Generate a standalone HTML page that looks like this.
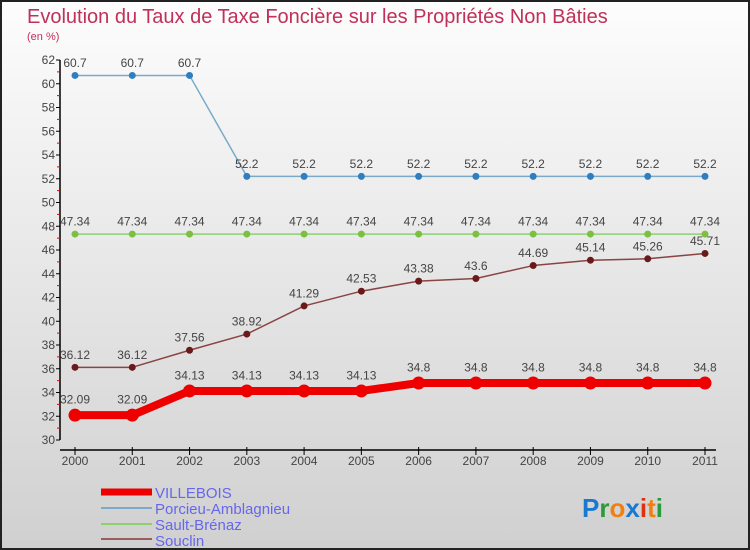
<!DOCTYPE html>
<html><head><meta charset="utf-8"><style>
body{margin:0;width:750px;height:550px;overflow:hidden}
svg{display:block;font-family:"Liberation Sans",sans-serif}
</style></head><body>
<svg id="c" width="750" height="550">
<defs><linearGradient id="bg" x1="0" y1="0" x2="0" y2="1"><stop offset="0" stop-color="#fdfdfd"/><stop offset="1" stop-color="#d0d0d0"/></linearGradient></defs>
<rect x="1" y="1" width="748" height="548" fill="url(#bg)" stroke="#222" stroke-width="2"/>
<text x="27" y="23" font-size="20" fill="#c0305a">Evolution du Taux de Taxe Foncière sur les Propriétés Non Bâties</text>
<text x="27" y="40" font-size="11" fill="#c0305a">(en %)</text>
<g id="axes"></g><g id="series"></g>
<g>
<line x1="101" y1="492" x2="152" y2="492" stroke="#e00" stroke-width="7"/>
<text x="155" y="498" font-size="15" fill="#6666ee">VILLEBOIS</text>
<line x1="101" y1="508" x2="152" y2="508" stroke="#7aaac8" stroke-width="2"/>
<text x="155" y="514" font-size="15" fill="#6666ee">Porcieu-Amblagnieu</text>
<line x1="101" y1="524" x2="152" y2="524" stroke="#8ed070" stroke-width="2"/>
<text x="155" y="530" font-size="15" fill="#6666ee">Sault-Brénaz</text>
<line x1="101" y1="539" x2="152" y2="539" stroke="#9a5c5c" stroke-width="2"/>
<text x="155" y="546" font-size="15" fill="#6666ee">Souclin</text>
</g>
<text x="582" y="517" font-size="26" font-weight="bold"><tspan fill="#1a78d0">P</tspan><tspan fill="#2a9a3a">r</tspan><tspan fill="#f08010">o</tspan><tspan fill="#1a78d0">x</tspan><tspan fill="#e03010">i</tspan><tspan fill="#f08010">t</tspan><tspan fill="#2a9a3a">i</tspan></text>
</svg>
<script>
const years=[2000,2001,2002,2003,2004,2005,2006,2007,2008,2009,2010,2011];
const villebois=[32.09,32.09,34.13,34.13,34.13,34.13,34.8,34.8,34.8,34.8,34.8,34.8];
const porcieu=[60.7,60.7,60.7,52.2,52.2,52.2,52.2,52.2,52.2,52.2,52.2,52.2];
const sault=[47.34,47.34,47.34,47.34,47.34,47.34,47.34,47.34,47.34,47.34,47.34,47.34];
const souclin=[36.12,36.12,37.56,38.92,41.29,42.53,43.38,43.6,44.69,45.14,45.26,45.71];
const yTicks=[30,32,34,36,38,40,42,44,46,48,50,52,54,56,58,60,62];
const NS="http://www.w3.org/2000/svg";
const X=i=>75+i*(630/11);
const Y=v=>440-(v-30)*(380/32);
function mk(p,t,a){const e=document.createElementNS(NS,t);for(const k in a)e.setAttribute(k,a[k]);p.appendChild(e);return e;}
const ax=document.getElementById('axes');
let l=mk(ax,'line',{x1:60,y1:Y(62),x2:60,y2:Y(30),stroke:'#000','stroke-width':1.5});


l=mk(ax,'line',{x1:60,y1:450,x2:716,y2:450,stroke:'#000','stroke-width':1.5});


yTicks.forEach((v,i)=>{
  mk(ax,'line',{x1:56,y1:Y(v),x2:60,y2:Y(v),stroke:'#000'});
  if(i<yTicks.length-1)mk(ax,'line',{x1:57,y1:Y(v+1),x2:60,y2:Y(v+1),stroke:'#e00'});
  const t=mk(ax,'text',{x:55,y:Y(v)+4,'font-size':12,'text-anchor':'end',fill:'#444'});
  t.textContent=v;
  
  
});
years.forEach((yr,i)=>{
  mk(ax,'line',{x1:X(i),y1:447,x2:X(i),y2:455,stroke:'#000'});
  const t=mk(ax,'text',{x:X(i),y:465,'font-size':12,'text-anchor':'middle',fill:'#444'});
  t.textContent=yr;
  
  
});
const sg=document.getElementById('series');
function draw(name,vals,color,w,r,dot,lbl){
  const g=mk(sg,'g',{});
  
  
  mk(g,'polyline',{points:vals.map((v,i)=>X(i)+','+Y(v)).join(' '),fill:'none',stroke:color,'stroke-width':w,'stroke-linejoin':'round'});
  vals.forEach((v,i)=>{
    const c=mk(g,'circle',{cx:X(i),cy:Y(v),r:r,fill:dot});
    
    
    const t=mk(g,'text',{x:X(i),y:Y(v)-(r+5),'font-size':12,'text-anchor':'middle',fill:'#444'});
    t.textContent=lbl?lbl(v):String(v);
    
    
  });
}
draw('porcieu',porcieu,'#7aaac8',1.5,3.5,'#2f7fc0');
draw('sault',sault,'#8ed070',1.5,3.5,'#7cc040');
draw('souclin',souclin,'#8a4444',1.5,3.5,'#6a1a1a');
draw('villebois',villebois,'#e00',8,6.5,'#e00');
</script>
</body></html>
